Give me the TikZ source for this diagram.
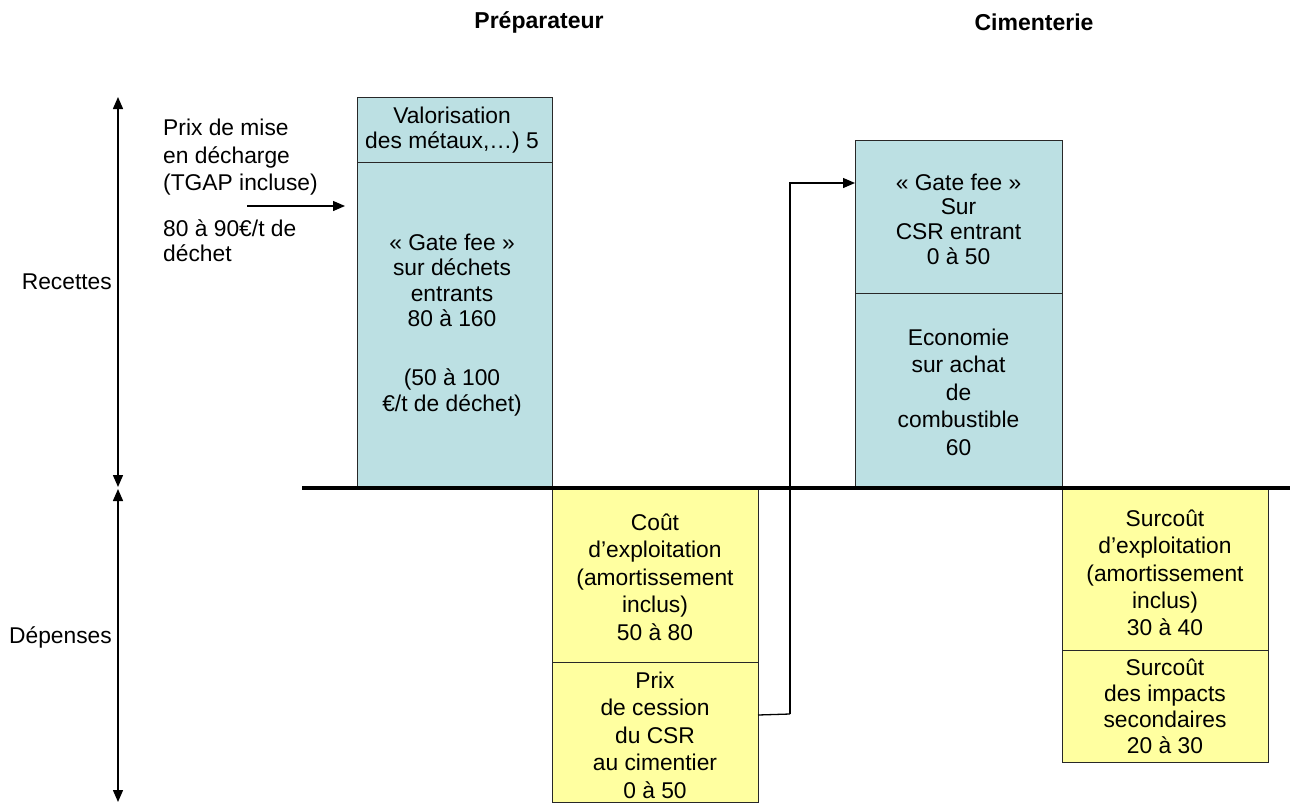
\documentclass[tikz,border=0pt]{standalone}
\usepackage{fontspec}
\setmainfont{Liberation Sans}
\usetikzlibrary{arrows.meta}
\definecolor{boxblue}{RGB}{188,224,227}
\definecolor{boxyellow}{RGB}{255,255,160}
\definecolor{boxline}{RGB}{40,40,40}
\tikzset{
  panel/.style={draw=boxline, line width=1pt, anchor=north west, inner sep=0pt, outer sep=0pt},
  bluebox/.style={panel, fill=boxblue},
  yellowbox/.style={panel, fill=boxyellow},
  txt/.style={align=center, inner sep=0pt},
  lefttxt/.style={align=left, anchor=west, inner sep=0pt},
  head/.style={inner sep=0pt, font=\fontsize{23}{27}\selectfont\bfseries},
  conn/.style={line width=1.3pt, -{Triangle[length=12pt,width=10pt]}},
  axis/.style={line width=1.5pt, {Triangle[length=12pt,width=10pt]}-{Triangle[length=12pt,width=10pt]}}
}
\newcommand{\fs}[1]{\fontsize{22.8}{#1}\selectfont}
\begin{document}
\begin{tikzpicture}[x=1pt,y=-1pt]
\useasboundingbox (0,0) rectangle (1295,803);
% headers
\node[head] (h1) at (539,22) {Préparateur};
\node[head] (h2) at (1034,22) {Cimenterie};
% boxes
\node[bluebox, minimum width=195pt, minimum height=65pt] (b1t) at (357,97) {};
\node[bluebox, minimum width=195pt, minimum height=326pt] (b1b) at (357,162) {};
\node[bluebox, minimum width=207pt, minimum height=153pt] (b2t) at (855,140) {};
\node[bluebox, minimum width=207pt, minimum height=195pt] (b2b) at (855,293) {};
\node[yellowbox, minimum width=206pt, minimum height=174pt] (y1t) at (552,488) {};
\node[yellowbox, minimum width=206pt, minimum height=140pt] (y1b) at (552,662) {};
\node[yellowbox, minimum width=206pt, minimum height=162pt] (y2t) at (1062,488) {};
\node[yellowbox, minimum width=206pt, minimum height=112pt] (y2b) at (1062,650) {};
% baseline
\coordinate (bl1) at (302,488);
\coordinate (bl2) at (1290,488);
\draw[line width=4pt] (bl1) -- (bl2);
% box texts
\node[txt, font=\fs{25}] (t1t) at (452,130) {Valorisation\\des métaux,…) 5};
\node[txt, font=\fs{25.5}] (t1b) at (452,325) {« Gate fee »\\sur déchets\\entrants\\80 à 160\\[8pt] \\(50 à 100\\€/t de déchet)};
\node[txt, font=\fs{24.7}] (t2t) at (958.5,219) {« Gate fee »\\Sur\\CSR entrant\\0 à 50};
\node[txt, font=\fs{27.5}] (t2b) at (958.5,392) {Economie\\sur achat\\de\\combustible\\60};
\node[txt, font=\fs{27.5}] (t3t) at (655,577) {Coût\\d’exploitation\\(amortissement\\inclus)\\50 à 80};
\node[txt, font=\fs{27.5}] (t3b) at (655,735) {Prix\\de cession\\du CSR\\au cimentier\\0 à 50};
\node[txt, font=\fs{27.3}] (t4t) at (1165,573) {Surcoût\\d’exploitation\\(amortissement\\inclus)\\30 à 40};
\node[txt, font=\fs{26}] (t4b) at (1165,706) {Surcoût\\des impacts\\secondaires\\20 à 30};
% left texts
\node[lefttxt, font=\fs{27.5}] (p1) at (163,157.5) {Prix de mise\\en décharge\\(TGAP incluse)};
\node[lefttxt, font=\fs{25}] (p2) at (163,240.5) {80 à 90€/t de\\déchet};
\coordinate (pa) at (247,206);
\coordinate (pb) at (345,206);
\draw[conn] (pa) -- (pb);
% connector
\coordinate (c1) at (790,714);
\coordinate (c2) at (790,183);
\draw[line width=1.3pt] ([yshift=17pt]y1b.east) -- (c1);
\draw[conn] (c1) -- (c2) -- ([yshift=33.5pt]b2t.west);
% axis
\coordinate (a0) at (118,97);
\coordinate (a1) at (118,487);
\coordinate (a2) at (118,489);
\coordinate (a3) at (118,802);
\draw[axis] (a0) -- (a1);
\draw[axis] (a2) -- (a3);
\node[anchor=east, inner sep=0pt, font=\fs{26}] (rec) at (112,282) {Recettes};
\node[anchor=east, inner sep=0pt, font=\fs{26}] (dep) at (112,637) {Dépenses};
\end{tikzpicture}
\end{document}
